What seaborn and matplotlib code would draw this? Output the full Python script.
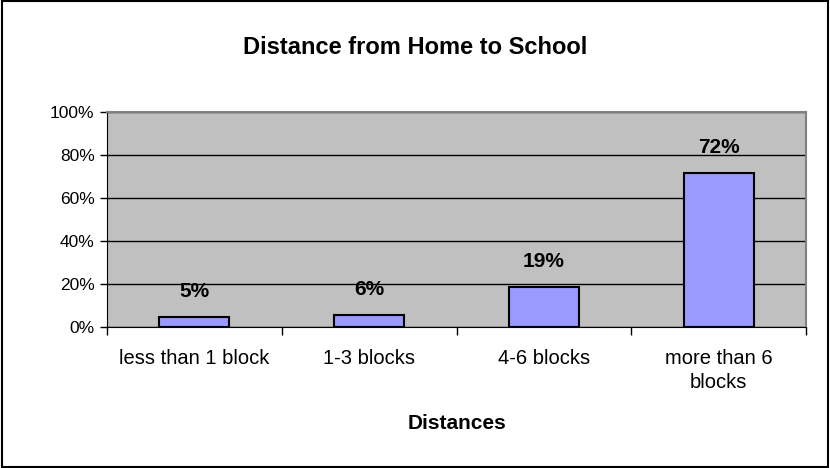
import matplotlib
matplotlib.use("Agg")
import matplotlib.pyplot as plt
from matplotlib.ticker import PercentFormatter, FixedLocator
import seaborn as sns
import pandas as pd

categories = ["less than 1 block", "1-3 blocks", "4-6 blocks", "more than 6\nblocks"]
shares = [0.045, 0.055, 0.185, 0.715]
share_labels = ["5%", "6%", "19%", "72%"]

sns.set_style("white", {"text.color": "black", "axes.labelcolor": "black",
                        "xtick.color": "black", "ytick.color": "black"})
plt.rcParams["font.family"] = ["Liberation Sans", "DejaVu Sans"]

df = pd.DataFrame({"distance": categories, "share": shares})

fig = plt.figure(figsize=(8.3, 4.68), dpi=100)
ax = fig.add_axes([107 / 830, 1 - 327 / 468, 699 / 830, 215 / 468])

sns.barplot(data=df, x="distance", y="share", color="#9999FF", width=0.4,
            edgecolor="black", linewidth=1.5, saturation=1, ax=ax, zorder=3)

ax.set_facecolor("#C0C0C0")
ax.set_ylim(0, 1)
ax.set_xlim(-0.5, 3.5)
ax.yaxis.set_major_formatter(PercentFormatter(1.0, decimals=0))
ax.set_yticks([0, 0.2, 0.4, 0.6, 0.8, 1.0])
ax.grid(axis="y", color="black", linewidth=1, zorder=1)
ax.set_axisbelow(True)

for s in ["top", "right"]:
    ax.spines[s].set_color("#808080")
    ax.spines[s].set_linewidth(1.5)
ax.spines["left"].set_color("black")
ax.spines["bottom"].set_color("black")

ax.tick_params(axis="y", length=5, width=1, direction="out", left=True, labelsize=12.5, pad=4)
ax.tick_params(axis="x", which="major", length=0, labelsize=14.5, pad=16)
ax.xaxis.set_minor_locator(FixedLocator([-0.5, 0.5, 1.5, 2.5, 3.5]))
ax.tick_params(axis="x", which="minor", length=6, width=1, direction="out", bottom=True)
for t in ax.get_xticklabels():
    t.set_linespacing(1.3)

for i, (v, lab) in enumerate(zip(shares, share_labels)):
    ax.text(i, v + 0.075, lab, ha="center", va="bottom", fontsize=15, fontweight="bold", zorder=4)

ax.set_ylabel("")
ax.set_xlabel("Distances", fontsize=15, fontweight="bold", labelpad=16)

fig.suptitle("Distance from Home to School", fontsize=17, fontweight="bold", y=1 - 47 / 468, va="center")

fig.patches.append(plt.Rectangle((0.002, 0.002), 0.996, 0.996, transform=fig.transFigure,
                                 fill=False, edgecolor="black", linewidth=1.5))

fig.savefig("out.png", dpi=100)
